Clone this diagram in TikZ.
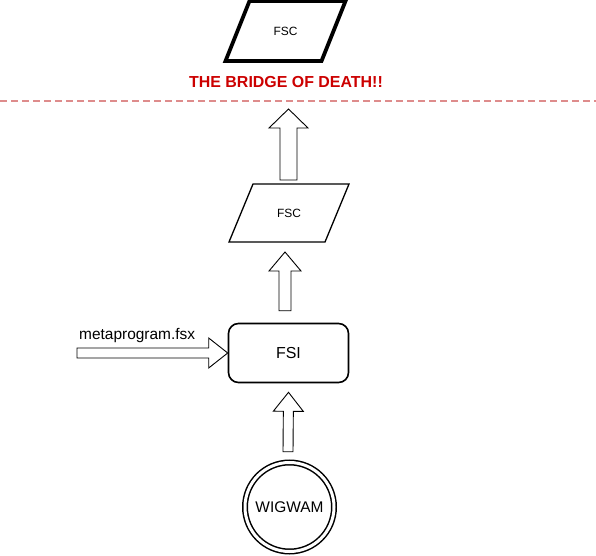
\documentclass[tikz,border=0pt]{standalone}
\usepackage{fontspec}
\setmainfont{Liberation Sans}
\usetikzlibrary{calc,positioning}
\definecolor{deathred}{RGB}{204,0,0}
\definecolor{cutpink}{RGB}{222,140,140}
\tikzset{
  fscbox/.style={
    shape = rectangle,
    minimum width = 96bp,
    minimum height = 58bp,
    inner sep = 0pt,
    outer sep = 0pt,
    font = \fontsize{12}{14}\selectfont
  },
  fscline/.style={
    draw,
    line width = 1.3bp,
    line join = miter
  },
  fsibox/.style={
    shape = rectangle,
    rounded corners = 10bp,
    minimum width = 120bp,
    minimum height = 59bp,
    draw,
    line width = 1.6bp,
    font = \fontsize{16}{18}\selectfont
  },
}
\tikzset{
  wigwam/.style={
    shape = circle,
    minimum size = 89bp,
    inner sep = 0pt,
    draw,
    double,
    double distance = 3bp,
    line width = 1.5bp,
    font = \fontsize{15.5}{18}\selectfont
  },
  bridge/.style={
    text = deathred,
    font = \fontsize{16}{18}\selectfont\bfseries,
    inner sep = 0pt
  },
  infile/.style={
    font = \fontsize{15.5}{18}\selectfont,
    inner sep = 0pt
  },
  cutline/.style={
    draw = cutpink,
    line width = 2.2bp,
    dash pattern = on 7bp off 4bp
  },
  blockarr/.style={
    draw,
    fill = white,
    line width = 0.9bp,
    line join = miter
  },
}
% slanted outline round an fscbox node
\newcommand\slantbox[2][]{%
  \draw[fscline, #1] ($(#2.south west)+(-12,0)$) -- ($(#2.south east)+(-12,0)$)
    -- ($(#2.north east)+(12,0)$) -- ($(#2.north west)+(12,0)$) -- cycle;}
% hollow arrow: from, to, half shaft, half head
\newcommand\blockarrow[4]{%
  \coordinate (ba-base) at ($(#2)!19bp!(#1)$);
  \draw[blockarr] ($(#1)!#3!90:(#2)$) -- ($(ba-base)!#3!90:(#2)$)
    -- ($(ba-base)!#4!90:(#2)$) -- (#2) -- ($(ba-base)!#4!-90:(#2)$)
    -- ($(ba-base)!#3!-90:(#2)$) -- ($(#1)!#3!-90:(#2)$) -- cycle;}
\begin{document}
\begin{tikzpicture}[x=1bp, y=-1bp]
\useasboundingbox (0,0) rectangle (596,556);
\node[fscbox, minimum height=60bp] (fsctop) at (285.5,31) {FSC};
\slantbox[line width=3.8bp]{fsctop}
\node[bridge] (death) at (286,82) {THE BRIDGE OF DEATH!!};
\coordinate (cutL) at (0,101);
\coordinate (cutR) at (596,101);
\draw[cutline] (cutL) -- (cutR);
\node[fscbox] (fscmid) at (289,213) {FSC};
\slantbox{fscmid}
\node[fsibox] (fsi) at (288.5,353) {FSI};
\node[wigwam] (wig) at (289.5,507) {WIGWAM};
\node[infile, anchor=base west] (meta) at (79,339) {metaprogram.fsx};
% arrows
\coordinate (tip1) at (288.5,109);
\coordinate (metastart) at (77,353);
\blockarrow{$(fscmid.north)+(-0.5,-4)$}{tip1}{8.5bp}{19.5bp}
\blockarrow{$(fsi.north)+(-3.5,-12)$}{$(fscmid.south)+(-4,10)$}{6bp}{16bp}
\blockarrow{$(wig.north)+(-1.5,-10)$}{$(fsi.south)+(0,9)$}{5bp}{15bp}
\blockarrow{metastart}{fsi.west}{5bp}{15bp}
\end{tikzpicture}
\end{document}
